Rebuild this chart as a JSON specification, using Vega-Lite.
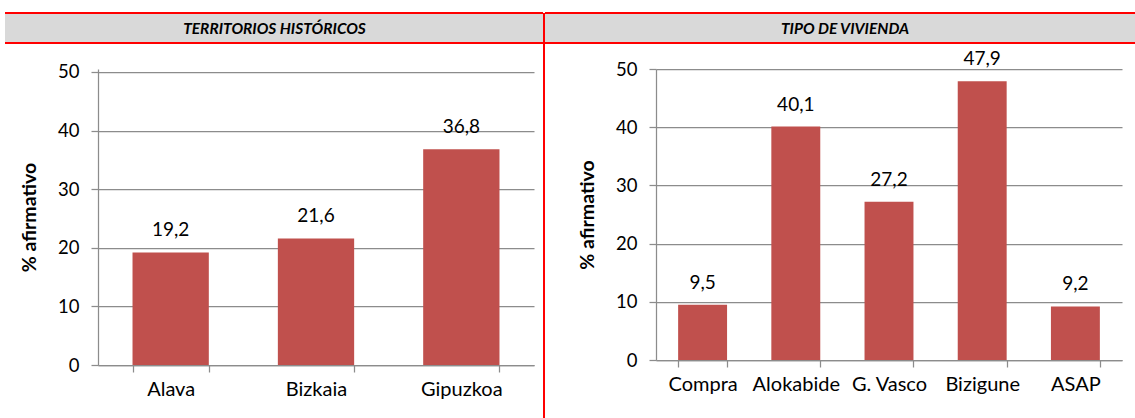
{
  "$schema": "https://vega.github.io/schema/vega-lite/v6.json",
  "padding": {"left": 4, "top": 12, "right": 0, "bottom": 0},
  "columns": 6,
  "align": "each",
  "bounds": "flush",
  "spacing": {"row": 0, "column": 0},
  "datasets": {
    "territorios": [
      {"territorio": "Alava", "pct": 19.2},
      {"territorio": "Bizkaia", "pct": 21.6},
      {"territorio": "Gipuzkoa", "pct": 36.8}
    ],
    "vivienda": [
      {"tipo": "Compra", "pct": 9.5},
      {"tipo": "Alokabide", "pct": 40.1},
      {"tipo": "G. Vasco", "pct": 27.2},
      {"tipo": "Bizigune", "pct": 47.9},
      {"tipo": "ASAP", "pct": 9.2}
    ],
    "blank": [{}],
    "cabeceras": [
      {"panel": "izq", "titulo": "TERRITORIOS HISTÓRICOS"},
      {"panel": "der", "titulo": "TIPO DE VIVIENDA"}
    ]
  },
  "concat": [
    {
      "width": 93, "height": 30,
      "view": {"fill": "#D9D9D9", "stroke": "#FF0000", "strokeWidth": 2, "strokeDash": [93, 30]},
      "data": {"name": "blank"}, "mark": "text", "encoding": {"text": {"value": ""}}
    },
    {
      "width": 436, "height": 30,
      "view": {"fill": "#D9D9D9", "stroke": "#FF0000", "strokeWidth": 2, "strokeDash": [436, 30]},
      "data": {"name": "cabeceras"},
      "transform": [{"filter": "datum.panel === 'izq'"}],
      "mark": {"type": "text", "font": "Lato", "fontStyle": "italic", "fontWeight": "bold", "fontSize": 15.5, "color": "#000000", "baseline": "middle", "align": "center", "dx": -41.5, "dy": 1},
      "encoding": {"text": {"field": "titulo"}}
    },
    {
      "width": 9, "height": 30,
      "view": {"fill": "#D9D9D9", "stroke": "#FF0000", "strokeWidth": 2, "strokeDash": [9, 30]},
      "data": {"name": "blank"}, "mark": "text", "encoding": {"text": {"value": ""}}
    },
    {
      "width": 2, "height": 30,
      "view": {"fill": "#FF0000", "stroke": null},
      "data": {"name": "blank"}, "mark": "text", "encoding": {"text": {"value": ""}}
    },
    {
      "width": 111, "height": 30,
      "view": {"fill": "#D9D9D9", "stroke": "#FF0000", "strokeWidth": 2, "strokeDash": [111, 30]},
      "data": {"name": "blank"}, "mark": "text", "encoding": {"text": {"value": ""}}
    },
    {
      "width": 480, "height": 30,
      "view": {"fill": "#D9D9D9", "stroke": "#FF0000", "strokeWidth": 2, "strokeDash": [480, 30]},
      "data": {"name": "cabeceras"},
      "transform": [{"filter": "datum.panel === 'der'"}],
      "mark": {"type": "text", "font": "Lato", "fontStyle": "italic", "fontWeight": "bold", "fontSize": 15.5, "color": "#000000", "baseline": "middle", "align": "center", "dx": -51, "dy": 1},
      "encoding": {"text": {"field": "titulo"}}
    },

    {"width": 93, "height": 26, "data": {"name": "blank"}, "mark": "text", "encoding": {"text": {"value": ""}}},
    {"width": 436, "height": 26, "data": {"name": "blank"}, "mark": "text", "encoding": {"text": {"value": ""}}},
    {"width": 9, "height": 26, "data": {"name": "blank"}, "mark": "text", "encoding": {"text": {"value": ""}}},
    {
      "width": 2, "height": 26,
      "view": {"fill": "#FF0000", "stroke": null},
      "data": {"name": "blank"}, "mark": "text", "encoding": {"text": {"value": ""}}
    },
    {"width": 111, "height": 26, "data": {"name": "blank"}, "mark": "text", "encoding": {"text": {"value": ""}}},
    {"width": 466, "height": 26, "data": {"name": "blank"}, "mark": "text", "encoding": {"text": {"value": ""}}},

    {"width": 93, "height": 1, "data": {"name": "blank"}, "mark": "text", "encoding": {"text": {"value": ""}}},
    {
      "width": 436,
      "height": 296,
      "data": {"name": "territorios"},
      "encoding": {
        "x": {
          "field": "territorio", "type": "nominal", "sort": null,
          "scale": {"paddingInner": 0.475, "paddingOuter": 0.2375},
          "axis": {"title": null}
        },
        "y": {
          "field": "pct", "type": "quantitative",
          "scale": {"domain": [0, 50.5], "nice": false},
          "axis": {"title": "% afirmativo", "values": [0, 10, 20, 30, 40, 50]}
        }
      },
      "layer": [
        {"mark": {"type": "bar", "color": "#C0504D"}},
        {
          "mark": {"type": "text", "baseline": "alphabetic", "dy": -16, "fontSize": 19, "font": "Lato", "color": "#000000"},
          "encoding": {"text": {"field": "pct", "type": "quantitative", "format": ".1f"}}
        }
      ]
    },
    {"width": 9, "height": 1, "data": {"name": "blank"}, "mark": "text", "encoding": {"text": {"value": ""}}},
    {
      "width": 2, "height": 349,
      "view": {"fill": "#FF0000", "stroke": null},
      "data": {"name": "blank"}, "mark": "text", "encoding": {"text": {"value": ""}}
    },
    {"width": 111, "height": 1, "data": {"name": "blank"}, "mark": "text", "encoding": {"text": {"value": ""}}},
    {
      "width": 466,
      "height": 291,
      "data": {"name": "vivienda"},
      "encoding": {
        "x": {
          "field": "tipo", "type": "nominal", "sort": null,
          "scale": {"paddingInner": 0.475, "paddingOuter": 0.2375},
          "axis": {"title": null}
        },
        "y": {
          "field": "pct", "type": "quantitative",
          "scale": {"domain": [0, 50], "nice": false},
          "axis": {"title": "% afirmativo", "values": [0, 10, 20, 30, 40, 50]}
        }
      },
      "layer": [
        {"mark": {"type": "bar", "color": "#C0504D"}},
        {
          "mark": {"type": "text", "baseline": "alphabetic", "dy": -16, "fontSize": 19, "font": "Lato", "color": "#000000"},
          "encoding": {"text": {"field": "pct", "type": "quantitative", "format": ".1f"}}
        }
      ]
    }
  ],
  "config": {
    "font": "Lato",
    "background": "#FFFFFF",
    "view": {"stroke": null},
    "locale": {
      "number": {"decimal": ",", "thousands": ".", "grouping": [3], "currency": ["", " €"]}
    },
    "axis": {
      "labelFont": "Lato",
      "labelFontSize": 18.5,
      "labelColor": "#000000",
      "domainColor": "#8C8C8C",
      "domainWidth": 1.25,
      "tickColor": "#8C8C8C",
      "tickWidth": 1.25,
      "tickSize": 7,
      "gridColor": "#8C8C8C",
      "gridWidth": 1.25,
      "titleFont": "Lato",
      "titleFontSize": 19.5,
      "titleFontWeight": "bold",
      "titleColor": "#000000"
    },
    "axisX": {"tickBand": "extent", "labelAngle": 0, "grid": false, "labelPadding": 7, "labelFontSize": 20},
    "axisY": {"grid": true, "labelPadding": 12, "titlePadding": 18}
  }
}
